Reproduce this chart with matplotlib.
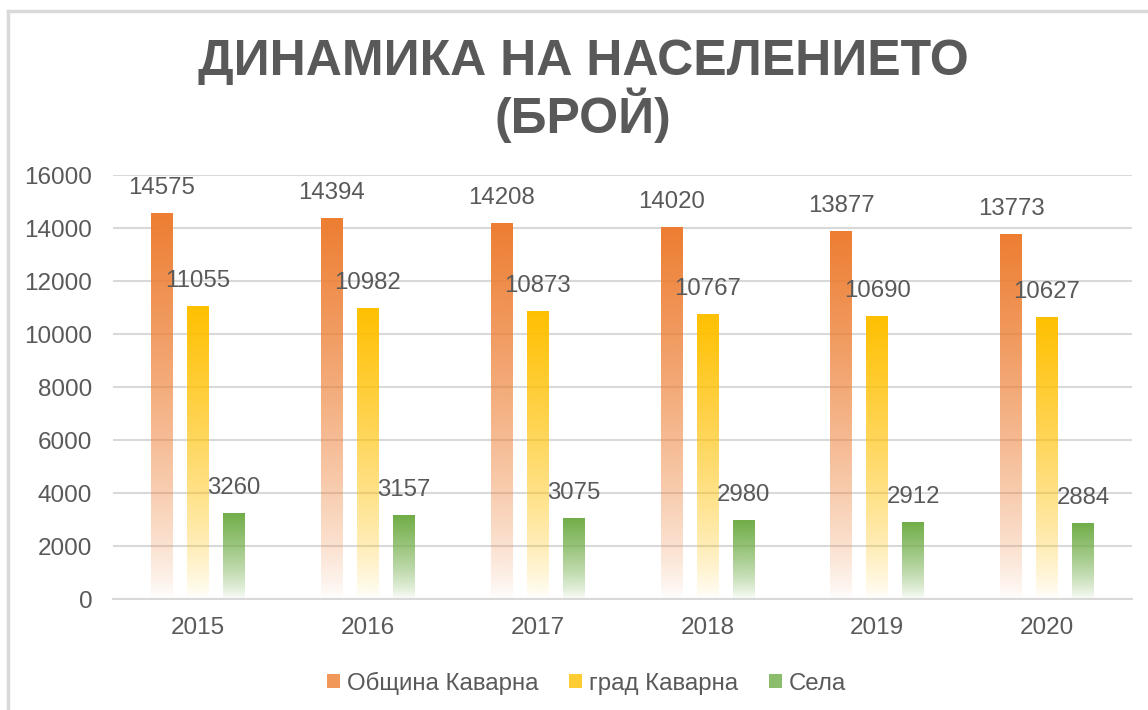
import numpy as np
import matplotlib.pyplot as plt
from matplotlib.patches import Patch
from matplotlib.lines import Line2D
from matplotlib.colors import to_rgb

years = ["2015", "2016", "2017", "2018", "2019", "2020"]
obshtina = [14575, 14394, 14208, 14020, 13877, 13773]
grad = [11055, 10982, 10873, 10767, 10690, 10627]
sela = [3260, 3157, 3075, 2980, 2912, 2884]
series_names = ["Община Каварна", "град Каварна", "Села"]
colors = ["#ED7D31", "#FFC000", "#70AD47"]

TXT = "#595959"
GRID = "#D9D9D9"
plt.rcParams["font.family"] = ["Liberation Sans", "DejaVu Sans"]

fig = plt.figure(figsize=(11.48, 7.10), dpi=100)
ax = fig.add_axes([0.0984, 0.1563, 0.8876, 0.5972])

x = np.arange(len(years))
w = 0.127
step = 0.212


def gradient(color):
    r, g, b = to_rgb(color)
    t = np.linspace(1, 0, 256) ** 0.75  # top -> bottom
    img = np.zeros((256, 1, 4))
    img[:, 0, 0], img[:, 0, 1], img[:, 0, 2] = r, g, b
    img[:, 0, 3] = t
    return img


for i, (vals, c) in enumerate(zip([obshtina, grad, sela], colors)):
    xs = x + (i - 1) * step
    bars = ax.bar(xs, vals, w, color="none", edgecolor="none", zorder=2)
    img = gradient(c)
    for b, v in zip(bars, vals):
        im = ax.imshow(img, extent=[b.get_x(), b.get_x() + w, 0, v],
                       aspect="auto", zorder=2, interpolation="bilinear")
        im.set_clip_path(b)
        ax.annotate(str(v), (b.get_x() + w / 2, v), xytext=(0, 18),
                    textcoords="offset points", ha="center", va="center",
                    fontsize=17.3, color=TXT, zorder=3)

ax.set_xlim(-0.5, len(years) - 0.5)
ax.set_ylim(0, 16000)
ax.set_yticks(np.arange(0, 16001, 2000))
ax.set_xticks(x)
ax.set_xticklabels(years)
ax.tick_params(axis="both", length=0, labelsize=17.5, labelcolor=TXT)
ax.tick_params(axis="x", pad=13)
ax.tick_params(axis="y", pad=15)
ax.grid(axis="y", color=GRID, lw=1.5, zorder=0)
ax.set_axisbelow(True)
for s in ["top", "right", "left"]:
    ax.spines[s].set_visible(False)
ax.spines["bottom"].set_color(GRID)
ax.spines["bottom"].set_linewidth(1.5)

fig.text(0.508, 0.872, "ДИНАМИКА НА НАСЕЛЕНИЕТО\n(БРОЙ)", ha="center", va="center",
         fontsize=36, fontweight="bold", color=TXT, linespacing=1.05)

handles = [Patch(facecolor=c, edgecolor="none", alpha=0.8) for c in colors]
fig.legend(handles, series_names, loc="center", bbox_to_anchor=(0.511, 0.038),
           ncol=3, frameon=False, fontsize=17.3, labelcolor=TXT,
           handlelength=0.55, handleheight=0.55, handletextpad=0.3, columnspacing=1.25)

# chart frame
fig.add_artist(Line2D([8 / 1148, 8 / 1148], [0, 1 - 11 / 710], color=GRID, lw=2.5))
fig.add_artist(Line2D([8 / 1148, 1], [1 - 11 / 710, 1 - 11 / 710], color=GRID, lw=2.5))

fig.savefig("out.png", dpi=100)
